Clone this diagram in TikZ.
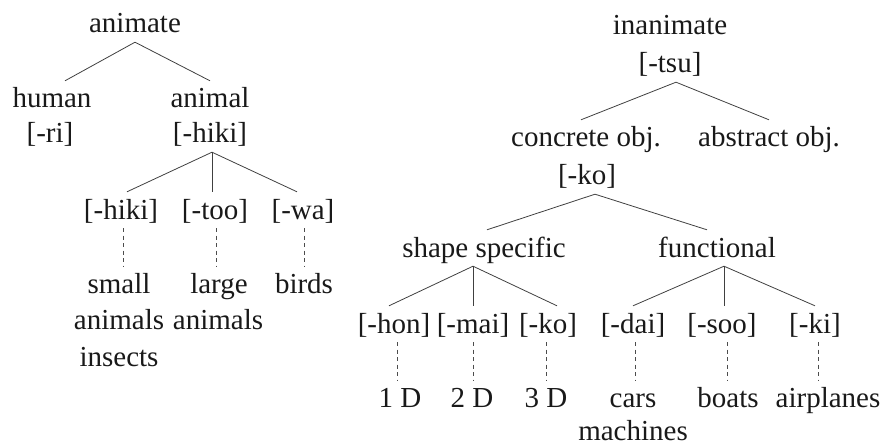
\documentclass[tikz,border=0pt]{standalone}
\usepackage{fontspec}
\setmainfont{Liberation Serif}
\begin{document}
\begin{tikzpicture}[x=1pt,y=1pt,
  lbl/.style={inner xsep=0pt, inner ysep=2pt, text height=25pt, text depth=7pt,
              anchor=base, font=\fontsize{29}{36}\selectfont, text=black!90},
  branch/.style={draw=black!75, line width=0.8pt},
  link/.style={draw=black!70, line width=0.8pt, dash pattern=on 4pt off 3.5pt}]
\useasboundingbox (0,0) rectangle (885,-446);

% ---------- animate classifiers ----------
\node[lbl] (animate) at (135,-33)  {animate};
\node[lbl] (human)   at (52,-108)  {human};
\node[lbl] (ri)      at (50,-143)  {[-ri]};
\node[lbl] (animal)  at (210,-108) {animal};
\node[lbl] (hikiA)   at (210,-143) {[-hiki]};
\node[lbl] (hikiB)   at (121,-219) {[-hiki]};
\node[lbl] (too)     at (215,-219) {[-too]};
\node[lbl] (wa)      at (303,-219) {[-wa]};
\node[lbl] (small)   at (119,-293) {small};
\node[lbl] (animsA)  at (119,-329) {animals};
\node[lbl] (insects) at (119,-366) {insects};
\node[lbl] (large)   at (219,-293) {large};
\node[lbl] (animsB)  at (218,-329) {animals};
\node[lbl] (birds)   at (304,-293) {birds};

\draw[branch] (animate.south) -- ([xshift=13pt]human.north);
\draw[branch] (animate.south) -- (animal.north);
\draw[branch] ([xshift=2pt]hikiA.south) -- ([xshift=6pt]hikiB.north);
\draw[branch] ([xshift=2pt]hikiA.south) -- ([xshift=2pt]hikiA.south |- too.north);
\draw[branch] ([xshift=2pt]hikiA.south) -- ([xshift=-6pt]wa.north);
\draw[link] ([xshift=2pt]hikiB.south) -- ([xshift=2pt]hikiB.south |- small.north);
\draw[link] ([xshift=1pt]too.south) -- ([xshift=1pt]too.south |- large.north);
\draw[link] ([xshift=1pt]wa.south) -- ([xshift=1pt]wa.south |- birds.north);

% ---------- inanimate classifiers ----------
\node[lbl] (inanimate)  at (670,-35)  {inanimate};
\node[lbl] (tsu)        at (670,-73)  {[-tsu]};
\node[lbl] (concrete)   at (586,-147) {concrete obj.};
\node[lbl] (koA)        at (587,-185) {[-ko]};
\node[lbl] (abstract)   at (769,-147) {abstract obj.};
\node[lbl] (shape)      at (484,-257) {shape specific};
\node[lbl] (functional) at (717,-257) {functional};
\node[lbl] (hon)        at (394,-333) {[-hon]};
\node[lbl] (mai)        at (473,-333) {[-mai]};
\node[lbl] (koB)        at (548,-333) {[-ko]};
\node[lbl] (dai)        at (633,-333) {[-dai]};
\node[lbl] (soo)        at (722,-333) {[-soo]};
\node[lbl] (ki)         at (815,-333) {[-ki]};
\node[lbl] (oneD)       at (400,-407) {1 D};
\node[lbl] (twoD)       at (472,-407) {2 D};
\node[lbl] (threeD)     at (546,-407) {3 D};
\node[lbl] (cars)       at (633,-407) {cars};
\node[lbl] (machines)   at (633,-440) {machines};
\node[lbl] (boats)      at (728,-407) {boats};
\node[lbl] (airplanes)  at (828,-407) {airplanes};

\draw[branch] ([xshift=6pt]tsu.south) -- ([xshift=-5pt]concrete.north);
\draw[branch] ([xshift=6pt]tsu.south) -- (abstract.north);
\draw[branch] ([xshift=8pt]koA.south) -- ([xshift=3pt]shape.north);
\draw[branch] ([xshift=8pt]koA.south) -- ([xshift=-10pt]functional.north);
\draw[branch] ([xshift=-11pt]shape.south) -- ([xshift=-5pt]hon.north);
\draw[branch] ([xshift=-11pt]shape.south) -- ([xshift=-11pt]shape.south |- mai.north);
\draw[branch] ([xshift=-11pt]shape.south) -- ([xshift=9pt]koB.north);
\draw[branch] ([xshift=7pt]functional.south) -- (dai.north);
\draw[branch] ([xshift=7pt]functional.south) -- ([xshift=7pt]functional.south |- soo.north);
\draw[branch] ([xshift=7pt]functional.south) -- (ki.north);
\draw[link] ([xshift=3pt]hon.south) -- ([xshift=3pt]hon.south |- oneD.north);
\draw[link] (mai.south) -- (mai.south |- twoD.north);
\draw[link] ([xshift=-2pt]koB.south) -- ([xshift=-2pt]koB.south |- threeD.north);
\draw[link] ([xshift=2pt]dai.south) -- ([xshift=2pt]dai.south |- cars.north);
\draw[link] ([xshift=5pt]soo.south) -- ([xshift=5pt]soo.south |- boats.north);
\draw[link] ([xshift=3pt]ki.south) -- ([xshift=3pt]ki.south |- airplanes.north);
\end{tikzpicture}
\end{document}
